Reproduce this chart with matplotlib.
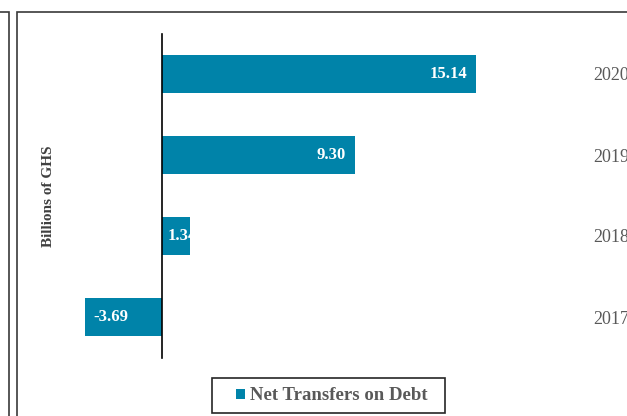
import matplotlib.pyplot as plt
from matplotlib.patches import Rectangle

years = ["2017", "2018", "2019", "2020"]
values = [-3.69, 1.34, 9.30, 15.14]
series_name = "Net Transfers on Debt"
bar_color = "#0083A9"

plt.rcParams['font.family'] = ['Liberation Serif', 'DejaVu Serif']

W, H = 627, 416
fig = plt.figure(figsize=(W / 100, H / 100), dpi=100)

# frame lines like the exported sheet
fig.patches.append(Rectangle((-10 / W, -10 / H), 18.7 / W, (H - 12 + 10) / H,
                             transform=fig.transFigure, fill=False,
                             edgecolor="#3a3a3a", lw=1.2))
fig.patches.append(Rectangle((16.7 / W, -10 / H), (W + 20) / W, (H - 12 + 10) / H,
                             transform=fig.transFigure, fill=False,
                             edgecolor="#3a3a3a", lw=1.2))

ax = fig.add_axes([58 / W, 1 - 357.5 / H, 519 / W, 324 / H])
ax.patch.set_alpha(0)
y = list(range(len(years)))
bars = ax.barh(y, values, height=0.47, color=bar_color, label=series_name)

ax.set_xlim(-5, 20)
ax.set_ylim(-0.5, len(years) - 0.5)
for s in ["top", "right", "bottom"]:
    ax.spines[s].set_visible(False)
ax.spines["left"].set_position(("data", 0))
ax.spines["left"].set_linewidth(1.2)
ax.set_xticks([])
ax.yaxis.tick_right()
ax.set_yticks(y)
ax.set_yticklabels(years, fontsize=13, color="#595959")
ax.tick_params(axis="y", length=0, pad=11.5)

for b, v in zip(bars, values):
    yc = b.get_y() + b.get_height() / 2
    if v < 0:
        t = ax.text(v + 0.4, yc, f"{v:.2f}", ha="left", va="center")
    elif v < 3:
        t = ax.text(0.3, yc, f"{v:.2f}", ha="left", va="center")
        t.set_clip_path(b)
    else:
        t = ax.text(v - 0.45, yc, f"{v:.2f}", ha="right", va="center")
    t.set_color("white")
    t.set_fontweight("bold")
    t.set_fontsize(12)

fig.text(49 / W, 1 - 196 / H, "Billions of GHS", rotation=90, ha="center",
         va="center", fontsize=11, fontweight="bold", color="#404040")

# legend box drawn by hand, legend itself without frame
fig.patches.append(Rectangle((212 / W, 1 - 413 / H), 233 / W, 35 / H,
                             transform=fig.transFigure, fill=False,
                             edgecolor="#262626", lw=1.2))
leg = fig.legend(loc="center left", bbox_to_anchor=(236 / W, 1 - 396 / H),
                 frameon=False, fontsize=13.5, borderpad=0, borderaxespad=0,
                 handlelength=0.5, handleheight=0.5, handletextpad=0.25)
for txt in leg.get_texts():
    txt.set_fontweight("bold")
    txt.set_color("#595959")

fig.savefig("out.png", dpi=100)
